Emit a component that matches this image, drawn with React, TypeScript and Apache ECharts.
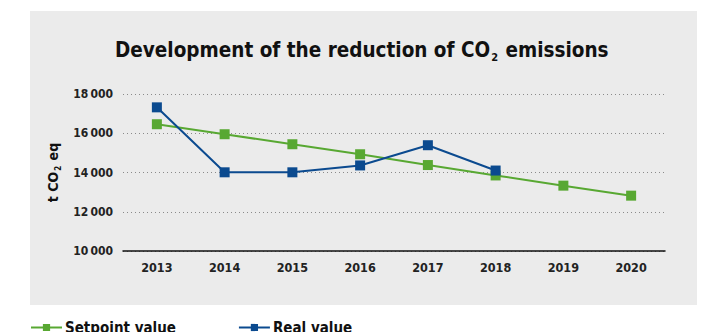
import React, { useEffect, useRef } from "react";
import * as echarts from "echarts";

const years = ["2013", "2014", "2015", "2016", "2017", "2018", "2019", "2020"];
const setpointValues = [16460, 15950, 15440, 14930, 14380, 13850, 13330, 12820];
const realValues = [17320, 14010, 14010, 14360, 15390, 14100, null, null];
const yTicks = { min: 10000, max: 18000, interval: 2000 };

const FONT = "'Liberation Sans Narrow', 'DejaVu Sans Condensed', 'Roboto', sans-serif";
const GREEN = "#58a832";
const BLUE = "#0b4a8f";

export default function App() {
  const ref = useRef<HTMLDivElement>(null);
  useEffect(() => {
    if (!ref.current) return;
    const chart = echarts.init(ref.current, null, { renderer: "svg" });
    chart.setOption({
      animation: false,
      backgroundColor: "#ffffff",
      graphic: [
        {
          type: "rect",
          z: -10,
          silent: true,
          shape: { x: 30, y: 11, width: 667, height: 294 },
          style: { fill: "#ebebeb" },
        },
      ],
      title: {
        left: 115,
        top: 37,
        padding: 0,
        text: "{a|Development of the reduction of CO}{s|2}{a| emissions}",
        textStyle: {
          rich: {
            a: { fontFamily: FONT, fontWeight: "bold", fontSize: 20.5, color: "#111", lineHeight: 26, verticalAlign: "middle" },
            s: { fontFamily: FONT, fontWeight: "bold", fontSize: 11, color: "#111", lineHeight: 26, verticalAlign: "bottom", padding: [0, 1, 0, 1] },
          },
        },
      },
      legend: {
        left: 30,
        top: 320,
        padding: 0,
        itemWidth: 31,
        itemHeight: 9,
        itemGap: 62,
        data: ["Setpoint value", "Real value"],
        textStyle: { fontFamily: FONT, fontWeight: "bold", fontSize: 15, color: "#111", padding: [0, 0, 0, -2] },
      },
      grid: { left: 123, right: 41, top: 94, bottom: 81 },
      xAxis: {
        type: "category",
        data: years,
        boundaryGap: true,
        axisLine: { lineStyle: { color: "#111", width: 1.5 } },
        axisTick: { inside: true, length: 4, lineStyle: { color: "#111", width: 1 } },
        axisLabel: { margin: 10, fontFamily: FONT, fontWeight: "bold", fontSize: 12.5, color: "#222" },
      },
      yAxis: {
        type: "value",
        min: yTicks.min,
        max: yTicks.max,
        interval: yTicks.interval,
        name: "{a|t CO}{s|2}{a| eq}",
        nameLocation: "middle",
        nameRotate: 90,
        nameGap: 61,
        nameTextStyle: {
          rich: {
            a: { fontFamily: FONT, fontWeight: "bold", fontSize: 14, color: "#111", lineHeight: 18, verticalAlign: "middle" },
            s: { fontFamily: FONT, fontWeight: "bold", fontSize: 8, color: "#111", lineHeight: 18, verticalAlign: "bottom", padding: [0, 1, 0, 1] },
          },
        },
        axisLine: { show: false },
        axisTick: { show: false },
        axisLabel: {
          margin: 10,
          fontFamily: FONT,
          fontWeight: "bold",
          fontSize: 12,
          color: "#222",
          formatter: (v: number) => {
            const s = String(v);
            return s.slice(0, s.length - 3) + "\u2009" + s.slice(s.length - 3);
          },
        },
        splitLine: { lineStyle: { color: "#8a8a8a", type: [1, 3], width: 1 } },
      },
      series: [
        {
          name: "Setpoint value",
          type: "line",
          data: setpointValues,
          symbol: "rect",
          symbolSize: 10,
          itemStyle: { color: GREEN },
          lineStyle: { color: GREEN, width: 2 },
          z: 2,
        },
        {
          name: "Real value",
          type: "line",
          data: realValues,
          symbol: "rect",
          symbolSize: 10,
          itemStyle: { color: BLUE },
          lineStyle: { color: BLUE, width: 2 },
          z: 3,
        },
      ],
    });
    return () => chart.dispose();
  }, []);
  return <div ref={ref} style={{ position: "absolute", left: 0, top: 0, width: 706, height: 332 }} />;
}
